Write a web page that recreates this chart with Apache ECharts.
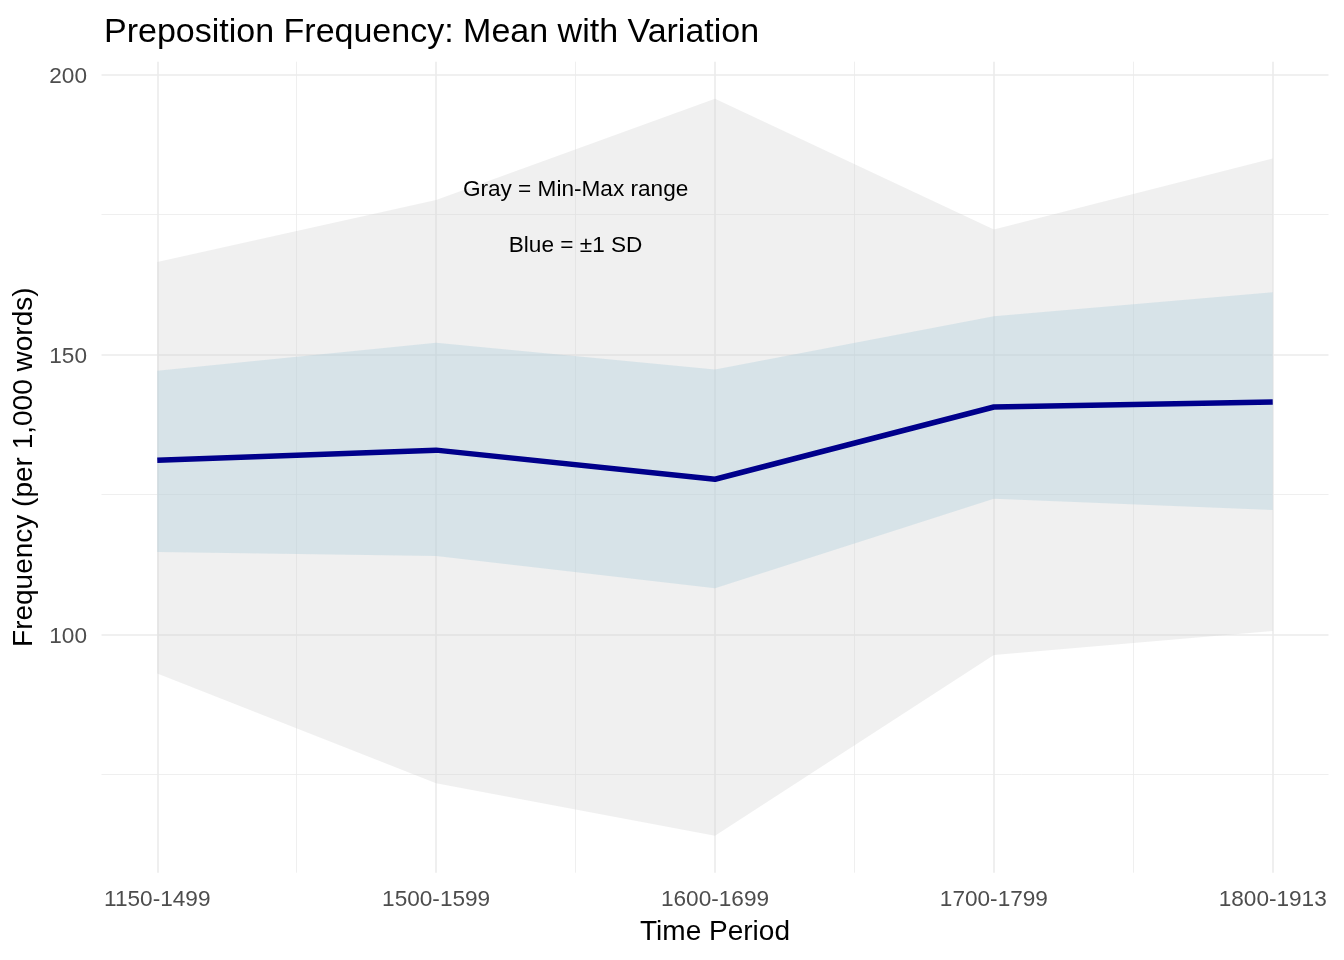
<!DOCTYPE html>
<html><head><meta charset="utf-8">
<script src="https://cdn.jsdelivr.net/npm/echarts@6/dist/echarts.min.js"></script>
<style>html,body{margin:0;padding:0;background:#fff}#chart{width:1344px;height:960px}</style>
</head><body><div id="chart"></div>
<script>
// ---- data ----
const categories = ['1150-1499', '1500-1599', '1600-1699', '1700-1799', '1800-1913'];
const meanValues = [131.1, 132.9, 127.7, 140.6, 141.5];
const sdUpper    = [147.1, 152.1, 147.3, 156.8, 161.1];
const sdLower    = [114.7, 114.0, 108.2, 124.2, 122.2];
const maxValues  = [166.5, 177.6, 195.7, 172.3, 185.0];
const minValues  = [93.0, 73.4, 64.0, 96.3, 100.6];
const yMajorTicks = [100, 150, 200];
const yMinorTicks = [75, 125, 175];
const xMinorTicks = [1.5, 2.5, 3.5, 4.5];
const annotationX = [2.5, 2.5];
const annotationY = [180, 170];
const annotationText = ['Gray = Min-Max range', 'Blue = \u00b11 SD'];

const positions = categories.map((c, i) => i + 1);
const FONT = '"Liberation Sans", Arial, sans-serif';
const GRID = '#ebebeb';

function ribbon(upper, lower, color, z) {
  return {
    type: 'custom',
    coordinateSystem: 'cartesian2d',
    xAxisIndex: 0, yAxisIndex: 0,
    silent: true,
    z: z,
    clip: true,
    data: [[positions[0], lower[0]]],
    encode: { x: 0, y: 1 },
    renderItem: function (params, api) {
      const pts = [];
      for (let i = 0; i < positions.length; i++) pts.push(api.coord([positions[i], upper[i]]));
      for (let i = positions.length - 1; i >= 0; i--) pts.push(api.coord([positions[i], lower[i]]));
      return { type: 'polygon', shape: { points: pts }, style: { fill: color } };
    }
  };
}

const chart = echarts.init(document.getElementById('chart'), null, { renderer: 'canvas' });
chart.setOption({
  backgroundColor: '#ffffff',
  animation: false,
  title: {
    text: 'Preposition Frequency: Mean with Variation',
    left: 99, top: 11,
    textStyle: { fontFamily: FONT, fontSize: 34, fontWeight: 'normal', color: '#000000' }
  },
  grid: { left: 101.5, right: 15.5, top: 61.7, bottom: 87.3, containLabel: false },
  xAxis: [
    {
      type: 'value', min: 0.8, max: 5.2,
      axisLine: { show: false },
      axisTick: { show: false, customValues: positions },
      axisLabel: {
        customValues: positions,
        formatter: v => categories[Math.round(v) - 1],
        color: '#4d4d4d', fontFamily: FONT, fontSize: 22.6, margin: 16
      },
      splitLine: { show: true, customValues: positions, lineStyle: { color: GRID, width: 1.6 } },
      name: 'Time Period', nameLocation: 'middle', nameGap: 46,
      nameTextStyle: { fontFamily: FONT, fontSize: 28, color: '#000000' }
    },
    {
      type: 'value', min: 0.8, max: 5.2, position: 'bottom',
      axisLine: { show: false },
      axisTick: { show: false, customValues: xMinorTicks },
      axisLabel: { show: false, customValues: xMinorTicks },
      splitLine: { show: true, customValues: xMinorTicks, lineStyle: { color: GRID, width: 0.8 } }
    }
  ],
  yAxis: [
    {
      type: 'value', min: 57.4, max: 202.3,
      axisLine: { show: false },
      axisTick: { show: false, customValues: yMajorTicks },
      axisLabel: {
        customValues: yMajorTicks,
        color: '#4d4d4d', fontFamily: FONT, fontSize: 22.6, margin: 14.5,
        verticalAlign: 'top', lineHeight: 4
      },
      splitLine: { show: true, customValues: yMajorTicks, lineStyle: { color: GRID, width: 1.6 } },
      name: 'Frequency (per 1,000 words)', nameLocation: 'middle', nameGap: 57, nameRotate: 90,
      nameTextStyle: { fontFamily: FONT, fontSize: 28, color: '#000000' }
    },
    {
      type: 'value', min: 57.4, max: 202.3, position: 'left',
      axisLine: { show: false },
      axisTick: { show: false, customValues: yMinorTicks },
      axisLabel: { show: false, customValues: yMinorTicks },
      splitLine: { show: true, customValues: yMinorTicks, lineStyle: { color: GRID, width: 0.8 } }
    }
  ],
  series: [
    ribbon(maxValues, minValues, 'rgba(204,204,204,0.3)', 1),
    ribbon(sdUpper, sdLower, 'rgba(160,198,216,0.3)', 2),
    {
      type: 'line',
      xAxisIndex: 0, yAxisIndex: 0,
      data: positions.map((x, i) => [x, meanValues[i]]),
      showSymbol: false, symbol: 'none',
      lineStyle: { color: '#00008b', width: 5.5, cap: 'butt', join: 'round' },
      z: 3, silent: true
    },
    {
      type: 'custom',
      coordinateSystem: 'cartesian2d',
      xAxisIndex: 0, yAxisIndex: 0,
      data: annotationX.map((x, i) => [x, annotationY[i], i]),
      encode: { x: 0, y: 1 },
      renderItem: function (params, api) {
        const p = api.coord([api.value(0), api.value(1)]);
        return {
          type: 'text',
          style: {
            text: annotationText[api.value(2)],
            x: p[0], y: p[1] + 3,
            fill: '#000000',
            font: '22.6px ' + FONT,
            align: 'center', verticalAlign: 'middle'
          }
        };
      },
      z: 4, silent: true
    }
  ]
});
</script>
</body></html>
